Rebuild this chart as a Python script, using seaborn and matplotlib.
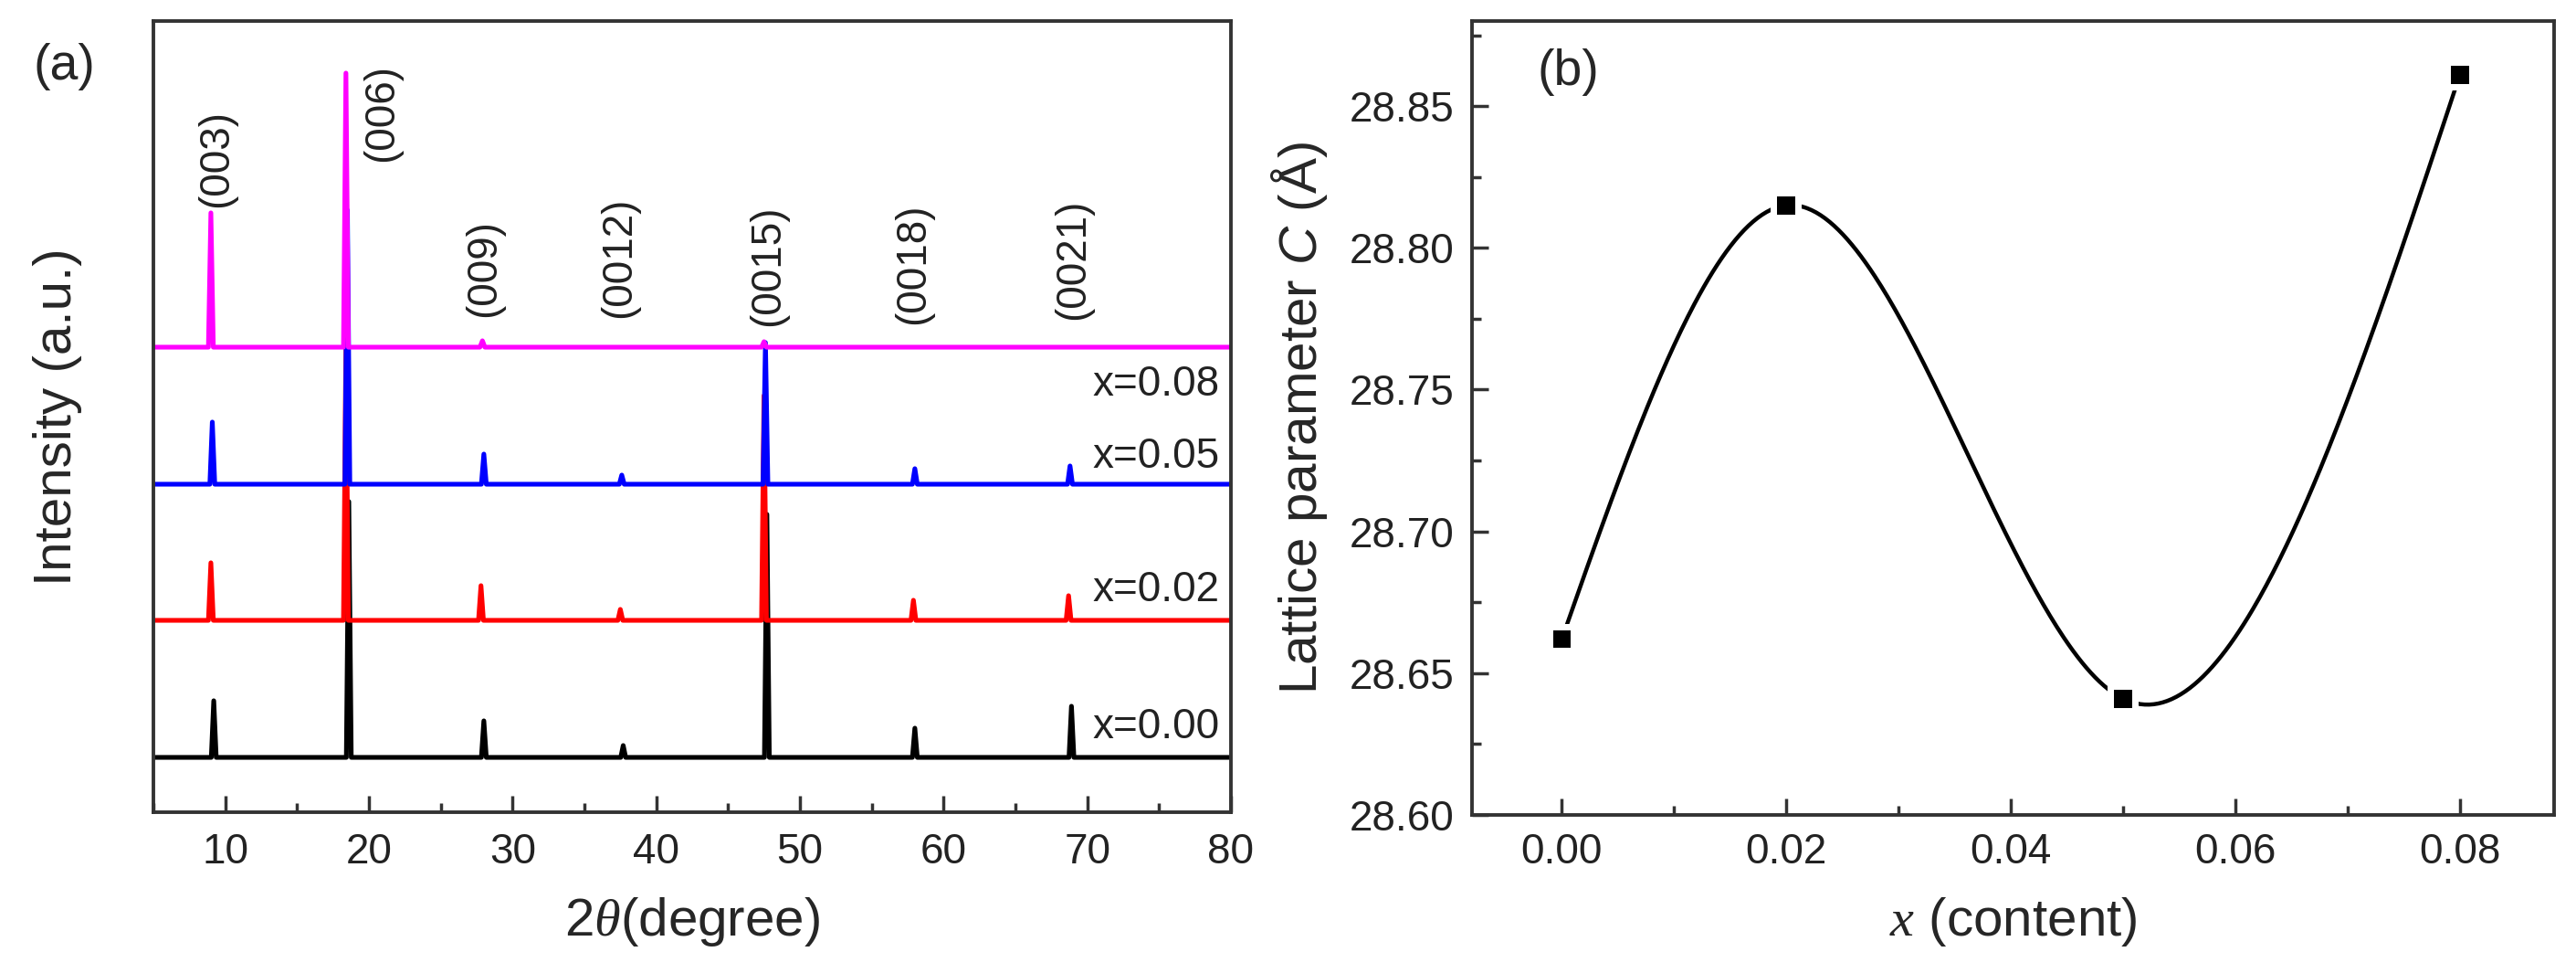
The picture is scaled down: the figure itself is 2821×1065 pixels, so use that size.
import numpy as np
import pandas as pd
import matplotlib
matplotlib.use("Agg")
import matplotlib.pyplot as plt
from matplotlib.ticker import MultipleLocator, FormatStrFormatter
import seaborn as sns

# ---- data: XRD patterns (panel a) ----
samples = ["x=0.00", "x=0.02", "x=0.05", "x=0.08"]
colors = ["black", "#ff0000", "#0000ff", "#ff00ff"]
offsets = [60, 210, 359, 509]
label_y = [81, 231, 377, 456]

peaks_000 = [9.2, 18.6, 28.0, 37.7, 47.7, 58.0, 68.9]
peaks_002 = [9.0, 18.4, 27.8, 37.5, 47.5, 57.9, 68.7]
peaks_005 = [9.1, 18.5, 28.0, 37.6, 47.6, 58.0, 68.8]
peaks_008 = [9.0, 18.4, 27.9, 37.6, 47.5, 57.9, 68.8]

heights_000 = [62, 280, 40, 13, 266, 32, 56]
heights_002 = [63, 300, 38, 12, 246, 22, 27]
heights_005 = [68, 300, 33, 10, 155, 17, 20]
heights_008 = [147, 300, 7, 0, 6, 0, 0]

hkl = ["(003)", "(006)", "(009)", "(0012)", "(0015)", "(0018)", "(0021)"]
hkl_x = [9.4, 20.9, 28.0, 37.4, 47.8, 57.9, 69.0]
hkl_y = [662, 712, 542, 541, 532, 534, 539]

# ---- data: lattice parameter (panel b) ----
content = [0.00, 0.02, 0.05, 0.08]
lattice_c = [28.662, 28.815, 28.641, 28.861]


def natural_spline(xk, yk, n=400):
    # natural cubic spline connector through the points (like Origin's spline line)
    xk = np.asarray(xk, float)
    yk = np.asarray(yk, float)
    h = np.diff(xk)
    m = len(xk)
    A = np.zeros((m, m))
    b = np.zeros(m)
    A[0, 0] = A[-1, -1] = 1
    for i in range(1, m - 1):
        A[i, i - 1] = h[i - 1]
        A[i, i] = 2 * (h[i - 1] + h[i])
        A[i, i + 1] = h[i]
        b[i] = 6 * ((yk[i + 1] - yk[i]) / h[i] - (yk[i] - yk[i - 1]) / h[i - 1])
    M = np.linalg.solve(A, b)
    xs = np.linspace(xk[0], xk[-1], n)
    idx = np.clip(np.searchsorted(xk, xs) - 1, 0, m - 2)
    x0, x1 = xk[idx], xk[idx + 1]
    hh = x1 - x0
    ys = (M[idx] * (x1 - xs) ** 3 / (6 * hh) + M[idx + 1] * (xs - x0) ** 3 / (6 * hh)
          + (yk[idx] / hh - M[idx] * hh / 6) * (x1 - xs)
          + (yk[idx + 1] / hh - M[idx + 1] * hh / 6) * (xs - x0))
    return xs, ys


sns.set_style("white")
plt.rcParams["font.family"] = ["Liberation Sans", "DejaVu Sans"]
plt.rcParams["mathtext.fontset"] = "custom"
plt.rcParams["mathtext.rm"] = "Liberation Sans"
plt.rcParams["mathtext.it"] = "Liberation Serif:italic"
plt.rcParams["mathtext.sf"] = "Liberation Sans:italic"

edge = "#333333"
fig = plt.figure(figsize=(28.21, 10.65), dpi=100)
W, H = 2821, 1065
ax1 = fig.add_axes([168 / W, (H - 889) / H, (1348 - 168) / W, (889 - 23) / H])
ax2 = fig.add_axes([1612 / W, (H - 892) / H, (2797 - 1612) / W, (892 - 23) / H])

# panel (a)
all_peaks = [peaks_000, peaks_002, peaks_005, peaks_008]
all_heights = [heights_000, heights_002, heights_005, heights_008]
half_w = 0.17
for name, col, off, pk, ht, ly in zip(samples, colors, offsets, all_peaks, all_heights, label_y):
    xs, ys = [5.0], [off]
    for p, h in zip(pk, ht):
        xs += [p - half_w, p, p + half_w]
        ys += [off, off + h, off]
    xs.append(80.0)
    ys.append(off)
    d = pd.DataFrame({"two_theta": xs, "intensity": ys})
    sns.lineplot(data=d, x="two_theta", y="intensity", ax=ax1, color=col,
                 lw=3.7, sort=False, estimator=None)
    ax1.text(79.2, ly, name, ha="right", va="baseline", fontsize=33, color="#222222")

for t, tx, ty in zip(hkl, hkl_x, hkl_y):
    ax1.text(tx, ty, t, rotation=90, ha="center", va="bottom", fontsize=33, color="#222222")

ax1.set_xlim(5, 80)
ax1.set_ylim(0, 866)
ax1.set_yticks([])
ax1.xaxis.set_major_locator(MultipleLocator(10))
ax1.xaxis.set_minor_locator(MultipleLocator(5))
ax1.tick_params(axis="x", which="both", bottom=True, top=False)
ax1.tick_params(axis="x", which="major", direction="in", length=13, width=2.5,
                labelsize=33, pad=16, color=edge, labelcolor="#222222")
ax1.tick_params(axis="x", which="minor", direction="in", length=7, width=2.5, color=edge)
ax1.set_xlabel(r"2$\theta$(degree)", fontsize=42, labelpad=18)
ax1.set_ylabel("Intensity (a.u.)", fontsize=42, labelpad=56)
for s in ax1.spines.values():
    s.set_color(edge)
    s.set_linewidth(2.8)
fig.text(37 / W, 1 - 73 / H, "(a)", fontsize=40, va="center", ha="left")

# panel (b)
sx, sy = natural_spline(content, lattice_c)
curve = pd.DataFrame({"x": sx, "c": sy})
sns.lineplot(data=curve, x="x", y="c", ax=ax2, color="black", lw=3.2, sort=False, estimator=None)
pts = pd.DataFrame({"x": content, "c": lattice_c})
sns.scatterplot(data=pts, x="x", y="c", ax=ax2, marker="s", s=600, color="white",
                edgecolor="none", zorder=3)
sns.scatterplot(data=pts, x="x", y="c", ax=ax2, marker="s", s=200, color="black",
                edgecolor="none", zorder=4)

ax2.set_xlim(-0.008, 0.0884)
ax2.set_ylim(28.60, 28.880)
ax2.xaxis.set_major_locator(MultipleLocator(0.02))
ax2.xaxis.set_minor_locator(MultipleLocator(0.01))
ax2.yaxis.set_major_locator(MultipleLocator(0.05))
ax2.yaxis.set_minor_locator(MultipleLocator(0.025))
ax2.xaxis.set_major_formatter(FormatStrFormatter("%.2f"))
ax2.yaxis.set_major_formatter(FormatStrFormatter("%.2f"))
ax2.tick_params(which="both", bottom=True, left=True, top=False, right=False)
ax2.tick_params(which="major", direction="in", length=13, width=2.5, labelsize=33,
                pad=14, color=edge, labelcolor="#222222")
ax2.tick_params(which="minor", direction="in", length=7, width=2.5, color=edge)
ax2.set_xlabel(r"$x$ (content)", fontsize=42, labelpad=18)
ax2.set_ylabel(r"Lattice parameter $\mathsf{C}$ (Å)", fontsize=42, labelpad=16)
for s in ax2.spines.values():
    s.set_color(edge)
    s.set_linewidth(2.8)
ax2.text(0.06, 0.935, "(b)", transform=ax2.transAxes, fontsize=40, va="center", ha="left")

fig.savefig("out.png", dpi=100)
